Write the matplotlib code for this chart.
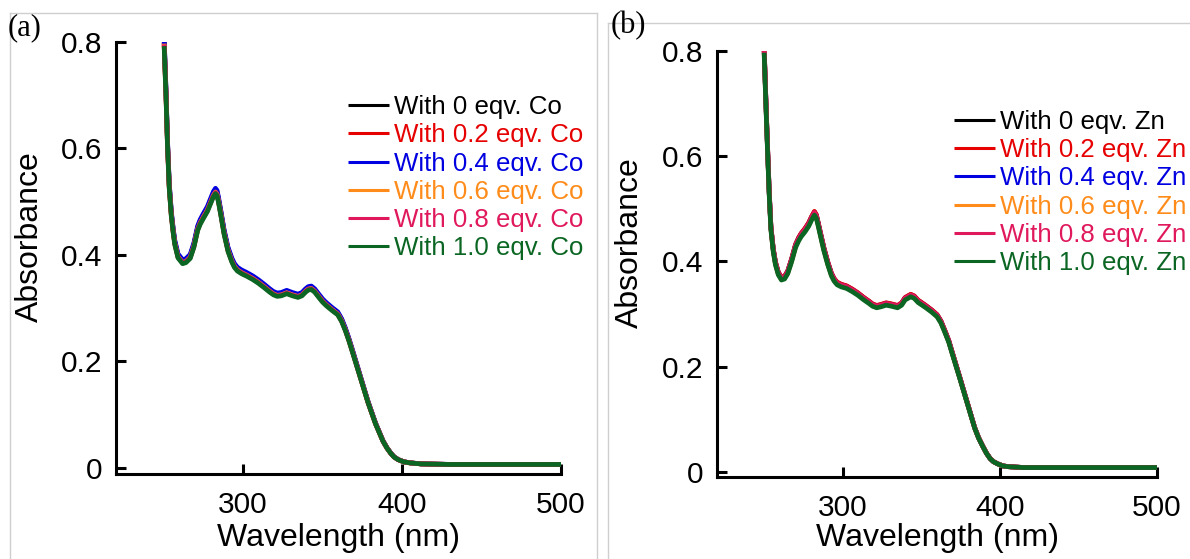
import numpy as np
import matplotlib
matplotlib.use('Agg')
import matplotlib.pyplot as plt
from matplotlib.lines import Line2D
from matplotlib.ticker import FuncFormatter

plt.rcParams['font.family'] = ['Liberation Sans', 'DejaVu Sans']

# UV-vis titration spectra, absorbance vs wavelength (nm)
wl_co = [250.3, 251.5, 252.4, 253.5, 254.8, 256.0, 257.0, 259.0, 261.9, 264.0,
         266.7, 269.0, 271.4, 273.0, 275.0, 277.5, 279.8, 281.3, 282.6, 283.6,
         284.5, 286.0, 288.0, 290.5, 292.9, 294.5, 296.4, 299.0, 302.4, 306.0,
         309.5, 313.0, 316.7, 319.0, 321.4, 324.0, 327.4, 331.0, 334.5, 337.0,
         339.3, 341.0, 342.9, 345.0, 347.6, 350.0, 352.4, 356.0, 359.5, 362.0,
         364.3, 366.5, 369.0, 373.8, 378.6, 383.3, 386.0, 388.0, 390.5, 392.9,
         395.0, 397.6, 401.0, 404.8, 412.0, 430.0, 460.0, 500.0]
abs_co = [0.800, 0.700, 0.610, 0.530, 0.477, 0.445, 0.423, 0.398, 0.387, 0.389,
          0.397, 0.418, 0.450, 0.462, 0.473, 0.486, 0.503, 0.514, 0.520, 0.516,
          0.503, 0.478, 0.443, 0.410, 0.390, 0.380, 0.373, 0.368, 0.363, 0.357,
          0.350, 0.342, 0.333, 0.328, 0.325, 0.326, 0.330, 0.326, 0.323, 0.326,
          0.333, 0.337, 0.338, 0.333, 0.323, 0.314, 0.307, 0.298, 0.290, 0.277,
          0.260, 0.241, 0.217, 0.170, 0.123, 0.083, 0.064, 0.050, 0.037, 0.027,
          0.020, 0.015, 0.011, 0.009, 0.007, 0.006, 0.006, 0.006]

wl_zn = [250.0, 251.0, 252.0, 253.2, 254.3, 255.8, 257.2, 259.0, 261.0, 263.0,
         265.0, 267.5, 270.0, 272.0, 273.6, 276.0, 278.4, 280.3, 282.0, 283.2,
         284.4, 286.0, 288.0, 290.5, 292.8, 294.5, 296.4, 299.0, 302.4, 306.0,
         309.6, 313.0, 316.8, 319.0, 321.6, 324.5, 327.6, 331.0, 334.9, 337.5,
         339.7, 343.3, 345.5, 348.0, 350.5, 352.9, 356.5, 360.0, 362.5, 365.0,
         367.5, 369.7, 374.5, 379.3, 384.0, 386.5, 389.0, 391.5, 393.8, 396.0,
         398.6, 402.0, 405.8, 415.0, 440.0, 470.0, 500.0]
abs_zn = [0.800, 0.710, 0.625, 0.530, 0.462, 0.420, 0.395, 0.376, 0.366, 0.368,
          0.378, 0.401, 0.428, 0.441, 0.449, 0.458, 0.469, 0.481, 0.490, 0.484,
          0.469, 0.448, 0.422, 0.395, 0.374, 0.364, 0.357, 0.353, 0.350, 0.344,
          0.337, 0.329, 0.321, 0.316, 0.313, 0.315, 0.318, 0.316, 0.313, 0.318,
          0.328, 0.334, 0.331, 0.323, 0.318, 0.313, 0.305, 0.296, 0.284, 0.266,
          0.247, 0.225, 0.178, 0.130, 0.083, 0.064, 0.049, 0.035, 0.025, 0.019,
          0.015, 0.011, 0.0095, 0.008, 0.008, 0.008, 0.008]

equivalents = ['0', '0.2', '0.4', '0.6', '0.8', '1.0']
# absorbance of the 282 nm band after each addition
peak_co = [0.522, 0.519, 0.525, 0.518, 0.517, 0.515]
peak_zn = [0.494, 0.495, 0.492, 0.490, 0.493, 0.488]

colors = ['#000000', '#e60000', '#0000e0', '#ff8c1a', '#e0185c', '#0b6623']

yticks = [0, 0.2, 0.4, 0.6, 0.8]
xticks = [300, 400, 500]


def draw_panel(ax, wl, absorb, peaks, metal, legend_xy, ybottom):
    wl = np.asarray(wl)
    absorb = np.asarray(absorb)
    ref = absorb[np.argmin(np.abs(wl - 282.3))]
    for eq, peak, col in zip(equivalents, peaks, colors):
        ax.plot(wl, absorb * peak / ref, color=col, lw=3.4,
                solid_joinstyle='round', solid_capstyle='butt',
                label='With %s eqv. %s' % (eq, metal))
    ax.set_xlim(220, 500)
    ax.set_ylim(ybottom, 0.8)
    ax.set_xticks(xticks)
    ax.set_yticks(yticks)
    ax.yaxis.set_major_formatter(
        FuncFormatter(lambda v, pos: '0' if v == 0 else '%.1f' % v))
    for side in ('top', 'right'):
        ax.spines[side].set_visible(False)
    for side in ('left', 'bottom'):
        ax.spines[side].set_linewidth(2.2)
    ax.tick_params(direction='in', length=7, width=2.2, labelsize=21.5)
    ax.tick_params(axis='y', pad=10)
    ax.tick_params(axis='x', pad=12)
    ax.set_xlabel('Wavelength (nm)', fontsize=23, va='center')
    ax.set_ylabel('Absorbance', fontsize=23, va='center')
    leg = ax.legend(loc='upper left', bbox_to_anchor=legend_xy, frameon=False,
                    fontsize=18.6, handlelength=1.58, handletextpad=0.2,
                    labelspacing=0.165, borderpad=0, borderaxespad=0,
                    labelcolor='linecolor')
    for line in leg.get_lines():
        line.set_linewidth(2.2)
    return leg


fig = plt.figure(figsize=(11.9, 5.59), dpi=100)

ax_a = fig.add_axes([116 / 1190, 1 - 474 / 559, 445 / 1190, 432 / 559])
draw_panel(ax_a, wl_co, abs_co, peak_co, 'Co', (0.522, 0.877), -0.012)
ax_a.xaxis.set_label_coords(0.5, -0.148)
ax_a.yaxis.set_label_coords(-0.193, 0.55)

ax_b = fig.add_axes([717 / 1190, 1 - 477 / 559, 440 / 1190, 426 / 559])
draw_panel(ax_b, wl_zn, abs_zn, peak_zn, 'Zn', (0.539, 0.862), -0.01)
ax_b.xaxis.set_label_coords(0.5, -0.143)
ax_b.yaxis.set_label_coords(-0.198, 0.55)

# light frames around the two panels
frame = dict(color='#cfcfcf', lw=1.0, transform=fig.transFigure)
fig.add_artist(Line2D([10 / 1190, 597 / 1190], [1 - 13 / 559] * 2, **frame))
fig.add_artist(Line2D([10 / 1190] * 2, [0, 1 - 13 / 559], **frame))
fig.add_artist(Line2D([597 / 1190] * 2, [0, 1 - 13 / 559], **frame))
fig.add_artist(Line2D([608 / 1190, 1], [1 - 23 / 559] * 2, **frame))
fig.add_artist(Line2D([608 / 1190] * 2, [0, 1 - 23 / 559], **frame))

fig.text(8 / 1190, 1 - 13 / 559, '(a)', fontsize=22, va='top', ha='left',
         family=['Liberation Serif', 'DejaVu Serif'])
fig.text(611 / 1190, 1 - 11 / 559, '(b)', fontsize=22, va='top', ha='left',
         family=['Liberation Serif', 'DejaVu Serif'])

fig.savefig('out.png', dpi=100)
